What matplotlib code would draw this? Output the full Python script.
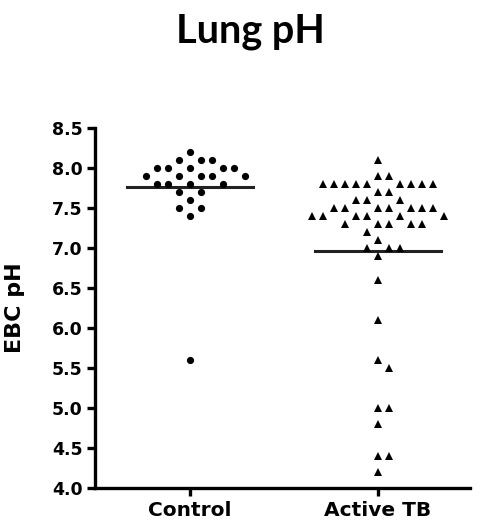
import numpy as np
import matplotlib
matplotlib.use("Agg")
import matplotlib.pyplot as plt

# ---- data ----
groups = ["Control", "Active TB"]
control_ph = [8.2, 8.1, 8.1, 8.1,
              8.0, 8.0, 8.0, 8.0, 8.0,
              7.9, 7.9, 7.9, 7.9, 7.9,
              7.8, 7.8, 7.8, 7.8,
              7.7, 7.7, 7.6, 7.5, 7.5, 7.4, 5.6]
active_tb_ph = [8.1, 7.9, 7.9,
                7.8, 7.8, 7.8, 7.8, 7.8, 7.8, 7.8, 7.8, 7.8,
                7.7, 7.7, 7.6, 7.6, 7.6,
                7.5, 7.5, 7.5, 7.5, 7.5, 7.5, 7.5,
                7.4, 7.4, 7.4, 7.4, 7.4, 7.4,
                7.3, 7.3, 7.3, 7.3, 7.3,
                7.2, 7.1, 7.0, 7.0, 7.0, 6.9,
                6.6, 6.1, 5.6, 5.5, 5.0, 5.0, 4.8, 4.4, 4.4, 4.2]
group_means = [7.76, 6.96]   # horizontal lines as drawn in the figure
yticks = [4.0, 4.5, 5.0, 5.5, 6.0, 6.5, 7.0, 7.5, 8.0, 8.5]

W, H, DPI = 481, 520, 100
fig = plt.figure(figsize=(W / DPI, H / DPI), dpi=DPI)
ax_l, ax_r, ax_b, ax_t = 95 / W, 470 / W, 32 / H, 392 / H
ax = fig.add_axes([ax_l, ax_b, ax_r - ax_l, ax_t - ax_b])
xlim = (-0.505, 1.49)
ylim = (4.0, 8.5)
ax.set_xlim(*xlim)
ax.set_ylim(*ylim)

px_per_x = (ax_r - ax_l) * W / (xlim[1] - xlim[0])
px_per_y = (ax_t - ax_b) * H / (ylim[1] - ylim[0])


def swarm_offsets(values, slot_px=11.0, min_dist=9.0):
    """Greedy beeswarm: place points on a horizontal slot grid avoiding overlap."""
    order = np.argsort(-np.asarray(values), kind="stable")
    placed = []
    offs = np.zeros(len(values))
    cand = [0]
    for k in range(1, 40):
        cand += [k, -k]
    for i in order:
        yp = values[i] * px_per_y
        for c in cand:
            xp = c * slot_px
            if all((xp - px) ** 2 + (yp - py) ** 2 >= min_dist ** 2 for px, py in placed):
                placed.append((xp, yp))
                offs[i] = xp / px_per_x
                break
    return offs


for gi, (vals, marker, ms) in enumerate([(control_ph, "o", 5.2), (active_tb_ph, "^", 5.8)]):
    offs = swarm_offsets(vals)
    ax.plot(gi + offs, vals, linestyle="none", marker=marker, color="black",
            markersize=ms, markeredgewidth=0, clip_on=False, zorder=3)
    m = group_means[gi]
    ax.plot([gi - 0.335, gi + 0.335], [m, m], color="#222222", linewidth=2.2, zorder=2)

for s in ["top", "right"]:
    ax.spines[s].set_visible(False)
for s in ["left", "bottom"]:
    ax.spines[s].set_linewidth(2.4)

ax.set_yticks(yticks)
ax.set_yticklabels([f"{t:.1f}" for t in yticks])
ax.set_xticks([0, 1])
ax.set_xticklabels(groups)
ax.tick_params(axis="both", direction="out", length=6, width=2.4, pad=3)
for lab in ax.get_yticklabels():
    lab.set_fontweight("bold")
    lab.set_fontfamily("DejaVu Sans")
    lab.set_fontsize(12.5)
for lab in ax.get_xticklabels():
    lab.set_fontweight("bold")
    lab.set_fontfamily("DejaVu Sans")
    lab.set_fontsize(14.5)

ax.set_ylabel("EBC pH", fontsize=16, fontweight="bold", family="DejaVu Sans",
              va="center", ha="center")
ax.yaxis.set_label_coords((15 - 95) / 375, 0.5)

fig.text(250 / W, 1 - 43 / H, "Lung pH", ha="center", va="baseline", fontsize=28.5,
         fontweight="bold", family="Lato")

fig.savefig("out.png", dpi=DPI)
